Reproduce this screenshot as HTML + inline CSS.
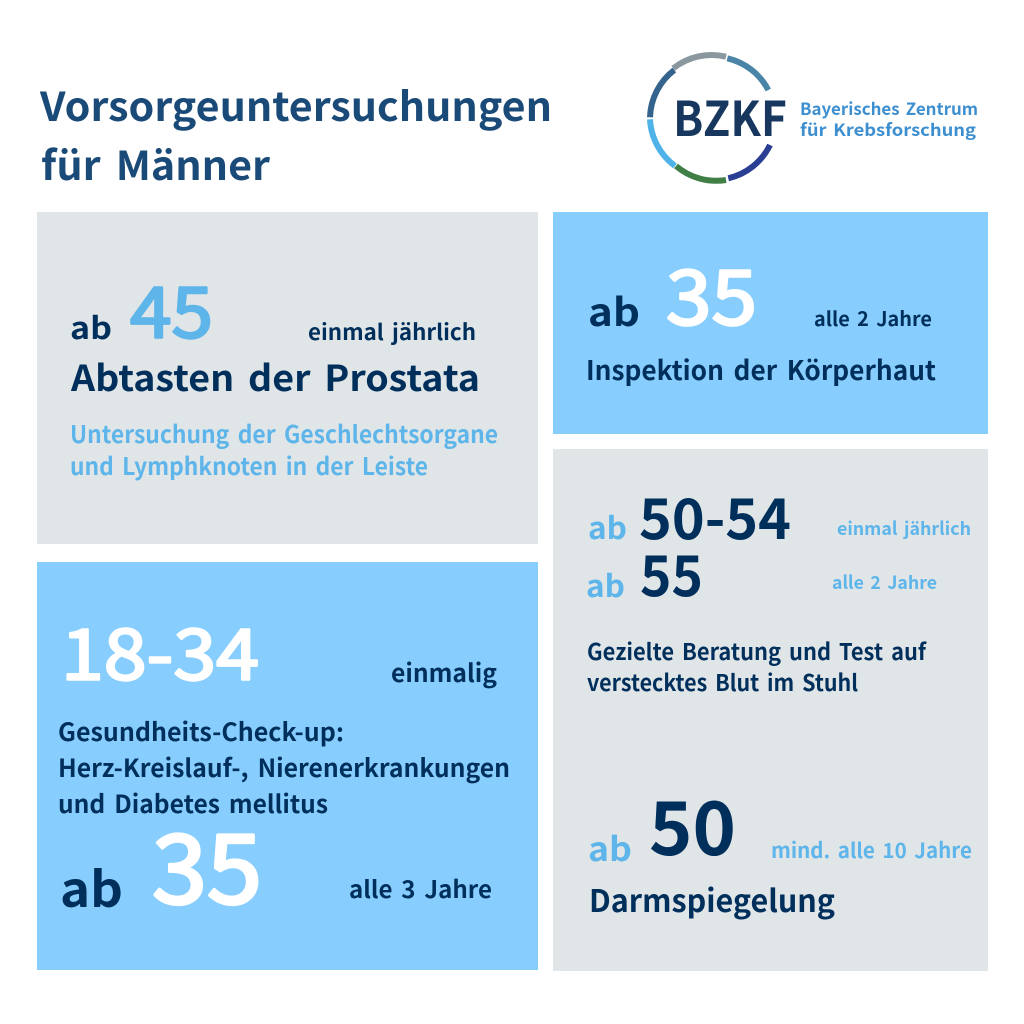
<!DOCTYPE html>
<html lang="de">
<head>
<meta charset="utf-8">
<title>Vorsorgeuntersuchungen für Männer</title>
<style>
html,body{margin:0;padding:0;background:#fff;width:1024px;height:1024px;overflow:hidden}
svg{display:block}
text{font-family:"Noto Sans CJK KR","Liberation Sans",sans-serif;font-weight:700;white-space:pre;word-spacing:.14em}
.d{fill:#002f5c}.l{fill:#5eb5ea}.w{fill:#fff}.t{fill:#1a4a78}
.m{font-weight:400;stroke-linejoin:round}
</style>
</head>
<body>
<svg width="1024" height="1024" viewBox="0 0 1024 1024">
<rect width="1024" height="1024" fill="#fff"/>
<rect x="37" y="212" width="501" height="332" fill="#e0e5e8"/>
<rect x="553" y="212" width="435" height="222" fill="#87cefe"/>
<rect x="37" y="562" width="501" height="408" fill="#87cefe"/>
<rect x="553" y="449" width="435" height="522" fill="#e0e5e8"/>

<text class="t" x="40" y="121" font-size="40" textLength="512" lengthAdjust="spacingAndGlyphs">Vorsorgeuntersuchungen</text>
<text class="t" x="41" y="180" font-size="40" textLength="229" lengthAdjust="spacingAndGlyphs">für Männer</text>

<g fill="none" stroke-width="6">
<path d="M673.3 68.3A62 62 0 0 1 726 56.7" stroke="#8a979f"/>
<path d="M727.3 58.3A62 62 0 0 1 768.3 90" stroke="#4a85a8"/>
<path d="M770 145A62 62 0 0 1 728.3 178.3" stroke="#2a3f94"/>
<path d="M726 180A62 62 0 0 1 676 166" stroke="#3f7f45"/>
<path d="M675 166A62 62 0 0 1 650 119.3" stroke="#4fb3ea"/>
<path d="M650 117.3A62 62 0 0 1 674.3 70" stroke="#34648e"/>
</g>
<text x="673" y="136" font-size="48" fill="#17375f" textLength="114" lengthAdjust="spacingAndGlyphs">BZKF</text>
<text x="800" y="115" font-size="17" fill="#3d8fd0" textLength="178" lengthAdjust="spacingAndGlyphs">Bayerisches Zentrum</text>
<text x="800" y="136" font-size="17" fill="#3d8fd0" textLength="176" lengthAdjust="spacingAndGlyphs">für Krebsforschung</text>

<g>
<text class="d" x="70" y="339" font-size="30" textLength="42" lengthAdjust="spacingAndGlyphs">ab</text>
<text class="l m" stroke="#5eb5ea" stroke-width="2.4" x="130" y="337.5" font-size="70" textLength="83" lengthAdjust="spacingAndGlyphs">45</text>
<text class="d" x="308" y="340" font-size="22" textLength="168" lengthAdjust="spacingAndGlyphs">einmal jährlich</text>
<text class="d" x="71" y="391" font-size="36" textLength="409" lengthAdjust="spacingAndGlyphs">Abtasten der Prostata</text>
<text class="l" x="70" y="443" font-size="24" textLength="428" lengthAdjust="spacingAndGlyphs">Untersuchung der Geschlechtsorgane</text>
<text class="l" x="70" y="475" font-size="24" textLength="358" lengthAdjust="spacingAndGlyphs">und Lymphknoten in der Leiste</text>
</g>

<g>
<text class="d" x="588" y="326" font-size="38" textLength="52" lengthAdjust="spacingAndGlyphs">ab</text>
<text class="w m" stroke="#fff" stroke-width="2.6" x="666" y="324.5" font-size="76" textLength="91" lengthAdjust="spacingAndGlyphs">35</text>
<text class="d" x="814" y="326" font-size="20" textLength="118" lengthAdjust="spacingAndGlyphs">alle 2 Jahre</text>
<text class="d" x="586" y="380" font-size="27" textLength="350" lengthAdjust="spacingAndGlyphs">Inspektion der Körperhaut</text>
</g>

<g>
<text class="l" x="588" y="539" font-size="30" textLength="39" lengthAdjust="spacingAndGlyphs">ab</text>
<text class="d" x="639" y="539" font-size="56" textLength="152" lengthAdjust="spacingAndGlyphs">50-54</text>
<text class="l" x="837" y="535" font-size="18" textLength="134" lengthAdjust="spacingAndGlyphs">einmal jährlich</text>
<text class="l" x="586" y="597" font-size="30" textLength="39" lengthAdjust="spacingAndGlyphs">ab</text>
<text class="d" x="640" y="596" font-size="56" textLength="63" lengthAdjust="spacingAndGlyphs">55</text>
<text class="l" x="832" y="589" font-size="18" textLength="105" lengthAdjust="spacingAndGlyphs">alle 2 Jahre</text>
<text class="d" x="587" y="660" font-size="23" textLength="339" lengthAdjust="spacingAndGlyphs">Gezielte Beratung und Test auf</text>
<text class="d" x="587" y="691" font-size="23" textLength="271" lengthAdjust="spacingAndGlyphs">verstecktes Blut im Stuhl</text>
<text class="l" x="588" y="861" font-size="33" textLength="44" lengthAdjust="spacingAndGlyphs">ab</text>
<text class="d" x="649" y="855" font-size="74" textLength="87" lengthAdjust="spacingAndGlyphs">50</text>
<text class="l" x="771" y="858" font-size="21" textLength="201" lengthAdjust="spacingAndGlyphs">mind. alle 10 Jahre</text>
<text class="d" x="589" y="912" font-size="31" textLength="246" lengthAdjust="spacingAndGlyphs">Darmspiegelung</text>
</g>

<g>
<text class="w m" stroke="#fff" stroke-width="2.4" x="61" y="679.5" font-size="70" textLength="198" lengthAdjust="spacingAndGlyphs">18-34</text>
<text class="d" x="391" y="682" font-size="25" textLength="106" lengthAdjust="spacingAndGlyphs">einmalig</text>
<text class="d" x="58" y="741" font-size="25" textLength="286" lengthAdjust="spacingAndGlyphs">Gesundheits-Check-up:</text>
<text class="d" x="58" y="777" font-size="25" textLength="452" lengthAdjust="spacingAndGlyphs">Herz-Kreislauf-, Nierenerkrankungen</text>
<text class="d" x="58" y="813" font-size="25" textLength="270" lengthAdjust="spacingAndGlyphs">und Diabetes mellitus</text>
<text class="d" x="60" y="907" font-size="49" textLength="63" lengthAdjust="spacingAndGlyphs">ab</text>
<text class="w m" stroke="#fff" stroke-width="3.2" x="152" y="903.5" font-size="96" textLength="110" lengthAdjust="spacingAndGlyphs">35</text>
<text class="d" x="349" y="898" font-size="24" textLength="143" lengthAdjust="spacingAndGlyphs">alle 3 Jahre</text>
</g>
</svg>
</body>
</html>
